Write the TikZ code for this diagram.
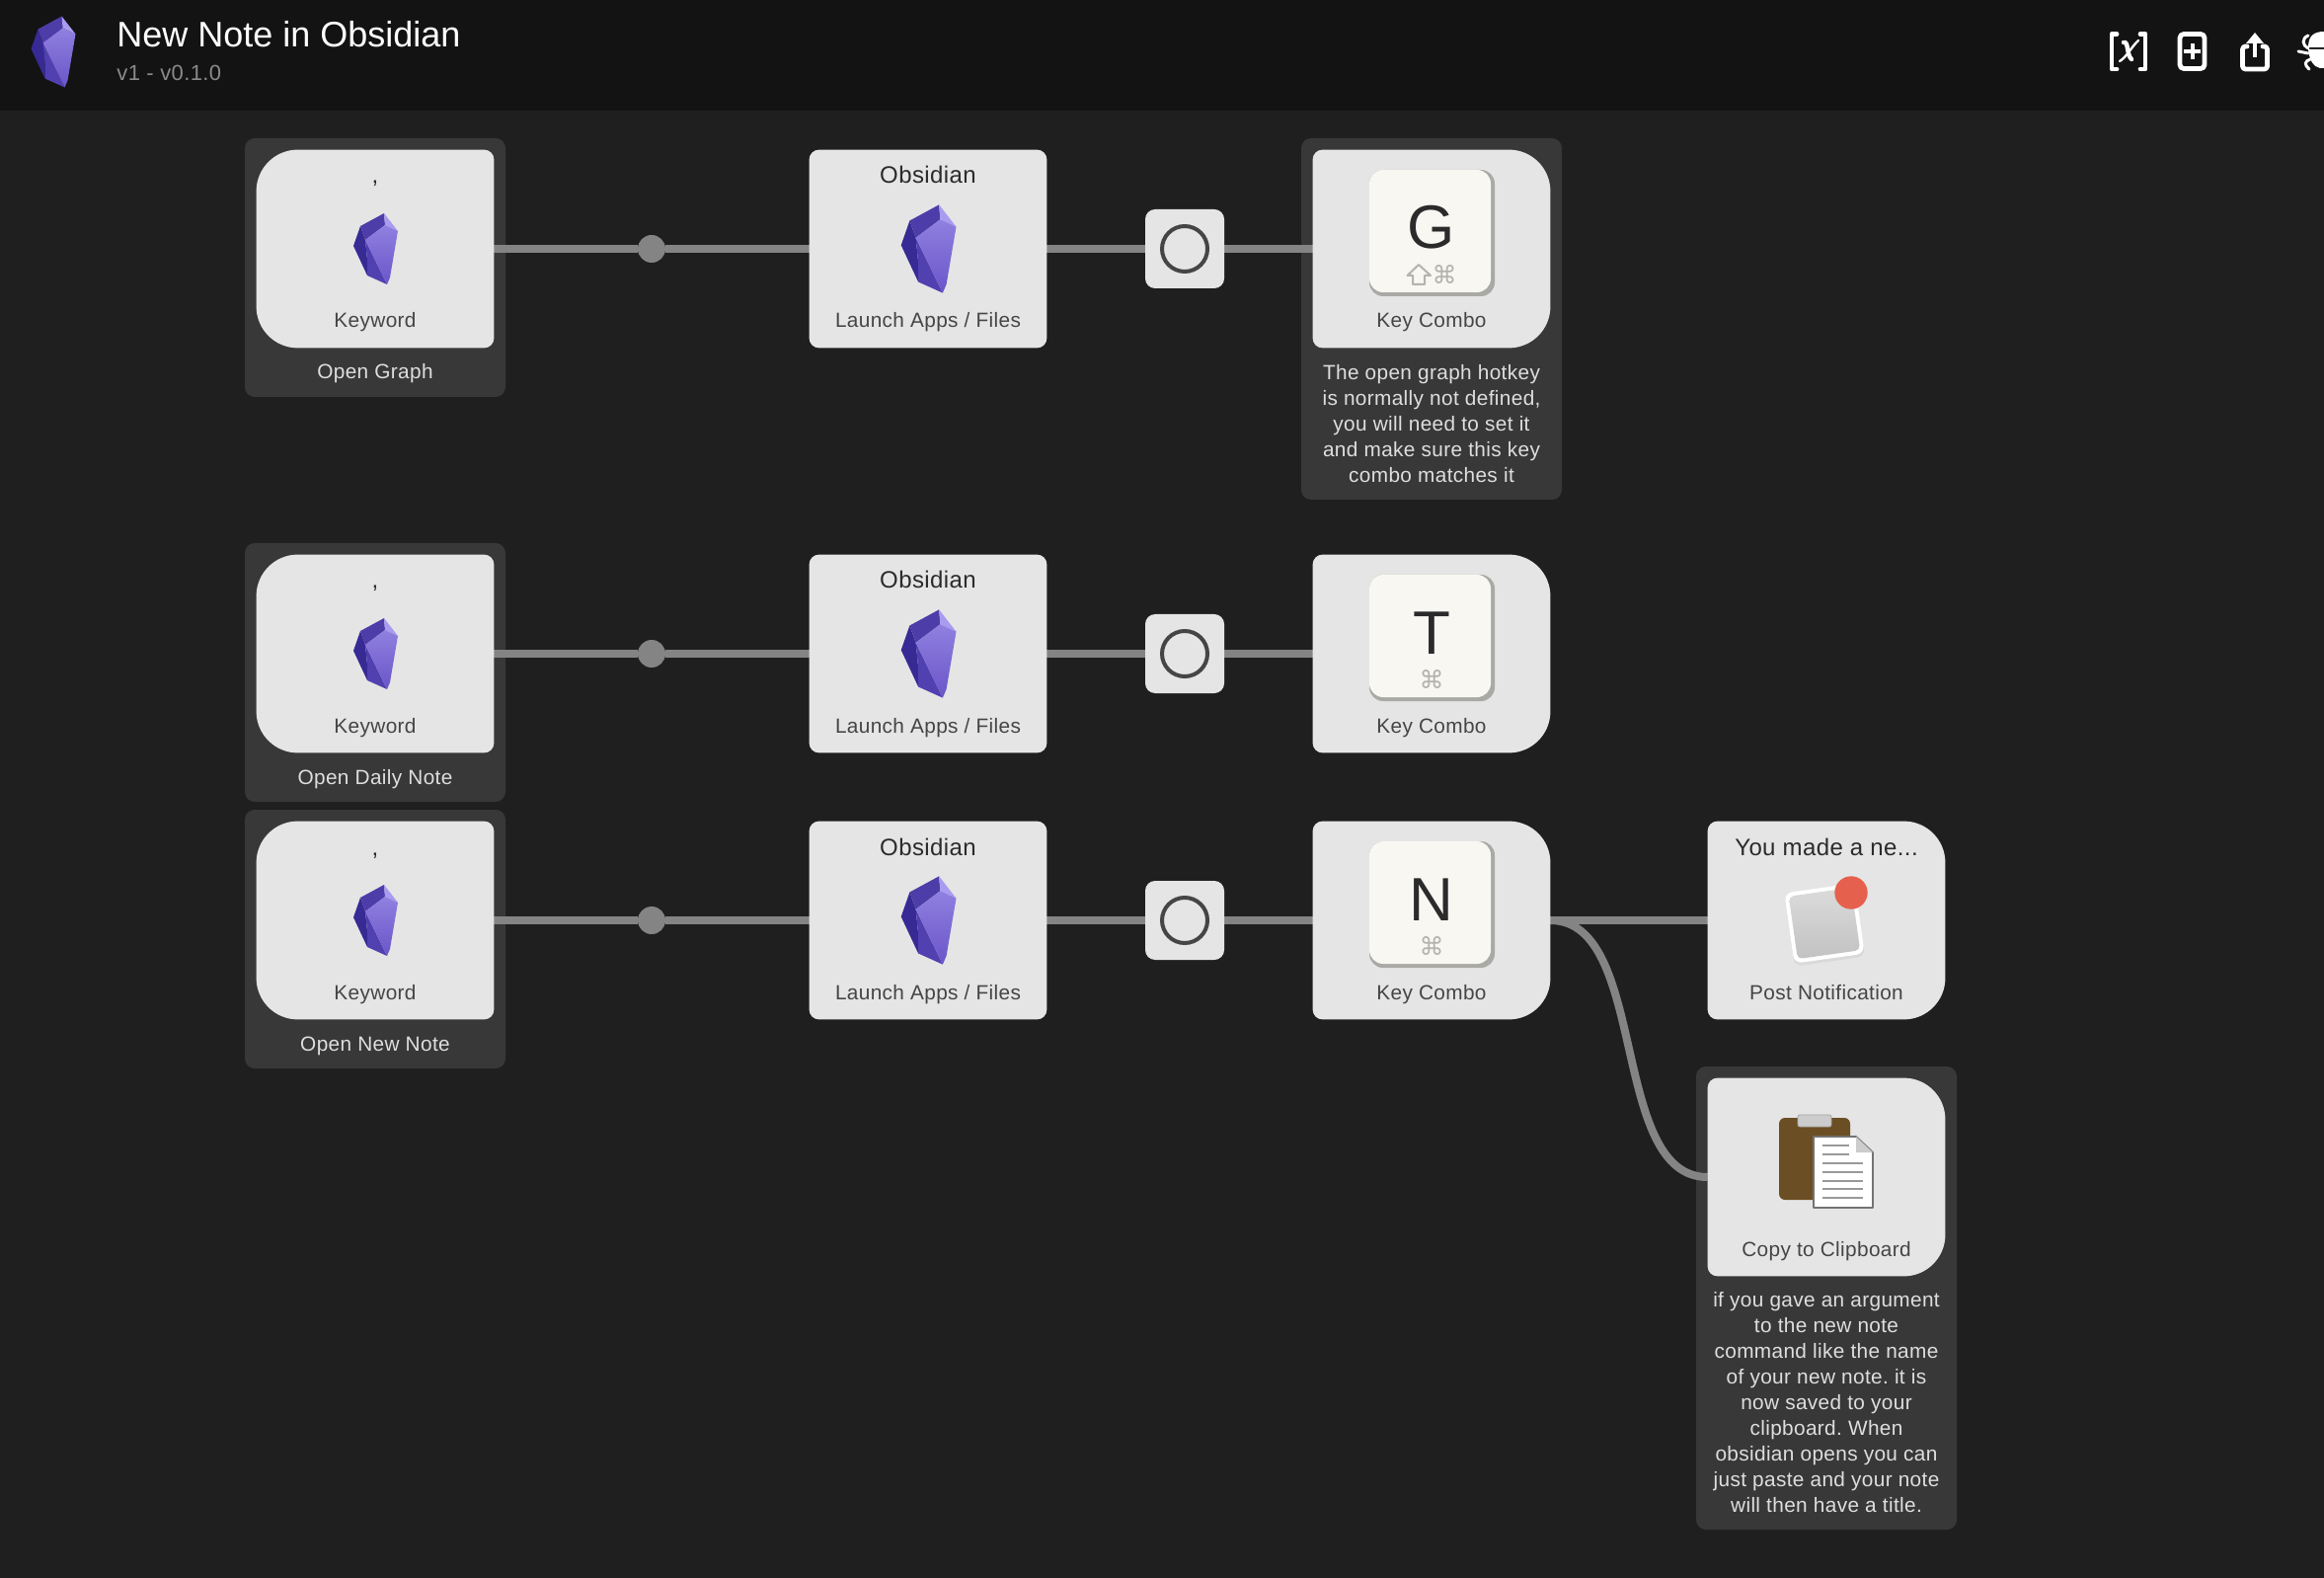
\documentclass[tikz,border=0pt]{standalone}
\usepackage{fontspec}
\setmainfont{Liberation Sans}
\newfontfamily\smallface[LetterSpace=1.7]{Liberation Sans}
\newfontfamily\symfont{DejaVu Sans}
\definecolor{canvasbg}{HTML}{1F1F1F}
\definecolor{headerbg}{HTML}{131313}
\definecolor{commentbg}{HTML}{383838}
\definecolor{cardbg}{HTML}{E5E5E5}
\definecolor{wirecol}{HTML}{848484}
\definecolor{labelcol}{HTML}{454545}
\definecolor{titlecol}{HTML}{2B2B2B}
\definecolor{commenttext}{HTML}{DEDEDE}
\definecolor{subcol}{HTML}{8A8A8A}
\definecolor{keyface}{HTML}{F8F7F2}
\definecolor{keyshade}{HTML}{A9A9A5}
\definecolor{modcol}{HTML}{B3B3B0}
\definecolor{gemdark}{HTML}{372A94}
\definecolor{gemmid}{HTML}{4D3DA8}
\definecolor{gemlow}{HTML}{5140B0}
\definecolor{gemlite}{HTML}{A99BEF}
\definecolor{gemtop}{HTML}{9080E0}
\definecolor{gembot}{HTML}{6A55C8}
\definecolor{badgecol}{HTML}{E5604D}
\definecolor{boardcol}{HTML}{6B4E23}
\pgfdeclarelayer{base}
\pgfdeclarelayer{wires}
\pgfsetlayers{base,wires,main}
\tikzset{
  x=0.5pt,y=-0.5pt,
  commentbox/.style={fill=commentbg,rounded corners=5pt,inner sep=0pt,minimum width=132pt},
  cardbox/.style={inner sep=0pt,minimum width=120pt,minimum height=100pt},
  filterbox/.style={fill=cardbg,rounded corners=5pt,inner sep=0pt,minimum width=40pt,minimum height=40pt},
  wire/.style={draw=wirecol,line width=4pt},
  wiredot/.style={circle,fill=wirecol,inner sep=0pt,minimum size=14pt},
  ring/.style={circle,draw=labelcol,line width=2pt,inner sep=0pt,minimum size=23pt},
  cardtitle/.style={anchor=base,inner sep=0pt,text=titlecol,font=\smallface\frenchspacing\fontsize{12}{14}\selectfont},
  cardlabel/.style={anchor=base,inner sep=0pt,text=labelcol,font=\smallface\frenchspacing\fontsize{10.4}{13}\selectfont},
  commentlabel/.style={anchor=base,inner sep=0pt,text=commenttext,align=center,font=\smallface\frenchspacing\fontsize{10.4}{13}\selectfont},
  keyletter/.style={anchor=base,inner sep=0pt,text=titlecol,font=\fontsize{31}{34}\selectfont},
  keymods/.style={inner sep=0pt,text=modcol,font=\symfont\fontsize{12.5}{14}\selectfont},
  icon/.style={draw=white,line width=2.4pt,line cap=round,line join=round},
  gem/.pic={
    \fill[gemdark] (-22,-3) -- (-15,-23) -- (-10,-9) -- (-8,11) -- (-8,27) -- cycle;
    \fill[gemlow] (-10,-9) -- (12,36) -- (-8,27) -- (-8,11) -- cycle;
    \fill[gemmid] (-15,-23) -- (9,-36) -- (10,-24) -- (-10,-9) -- cycle;
    \fill[gemlite] (9,-36) -- (23,-18) -- (10,-24) -- cycle;
    \shade[top color=gemtop,bottom color=gembot] (-10,-9) -- (10,-24) -- (23,-18) -- (15,29) -- (12,36) -- cycle;
  }
}
% name, centre, left radius, right radius
\newcommand{\card}[4]{%
  \node[cardbox] (#1) at (#2) {};
  \fill[cardbg,rounded corners=#3] (#1.west) |- (#1.north)
     [rounded corners=#4] -| (#1.east) |- (#1.south)
     [rounded corners=#3] -| (#1.west) -- cycle;
}
% name, centre x, centre y, letter, x of the command sign
\newcommand{\keycap}[5]{%
  \begin{scope}[shift={(#2,#3)}]
    \fill[keyshade,rounded corners=7pt] (-63,-80) rectangle (64,48);
    \fill[keyface,rounded corners=7pt] (-63,-80) rectangle (60,44);
    \node[keyletter] (#1-letter) at (0,0) {#4};
    \node[keymods] (#1-mods) at (#5,26) {⌘};
  \end{scope}
}
\begin{document}
\begin{tikzpicture}
\path[use as bounding box] (0,0) rectangle (2354,1598);
\begin{pgfonlayer}{base}
  \fill[canvasbg] (0,0) rectangle (2354,1598);
  \fill[headerbg] (0,0) rectangle (2354,112);
  \node[commentbox,minimum height=131pt] (c1) at (380,271) {};
  \node[commentbox,minimum height=183pt] (c2) at (1450,323) {};
  \node[commentbox,minimum height=131pt] (c3) at (380,681) {};
  \node[commentbox,minimum height=131pt] (c4) at (380,951) {};
  \node[commentbox,minimum height=234.5pt] (c5) at (1850,1314.5) {};
\end{pgfonlayer}

% header
\pic at (53.5,52.5) {gem};
\node[anchor=base west,inner sep=0pt,text=white,font=\fontsize{18}{20}\selectfont] (apptitle) at (118,48) {New Note in Obsidian};
\node[anchor=base west,inner sep=0pt,text=subcol,font=\smallface\fontsize{11}{13}\selectfont] (appver) at (118,82) {v1 - v0.1.0};
% header icons
\draw[icon] (2144,34.5) -- (2139,34.5) -- (2139,70) -- (2144,70);
\draw[icon] (2168,34.5) -- (2173,34.5) -- (2173,70) -- (2168,70);
\draw[white,line width=1.2pt,line cap=round] (2147,62) .. controls (2154,58) and (2160,46) .. (2166,41);
\draw[white,line width=2.2pt,line cap=round] (2151,43) .. controls (2156,41) and (2154,56) .. (2159,60);
\draw[icon,rounded corners=2pt] (2208,34.5) rectangle (2233,69.5);
\draw[white,line width=2pt] (2212,52) -- (2229,52) (2220.5,44) -- (2220.5,60);
\draw[icon,rounded corners=1.5pt] (2276,47) -- (2271.5,47) -- (2271.5,70) -- (2296.5,70) -- (2296.5,47) -- (2292,47);
\draw[white,line width=2pt] (2284,40) -- (2284,58);
\fill[white] (2284,33) -- (2293,44) -- (2275,44) -- cycle;
\begin{scope}
  \clip (2300,0) rectangle (2354,112);
  \fill[white] (2338,48) .. controls (2338,36) and (2344,32) .. (2354,32) -- (2360,32) -- (2360,48) -- cycle;
  \fill[white] (2338,50) -- (2360,50) -- (2360,69) -- (2350,69) .. controls (2343,68) and (2339,60) .. (2338,50) -- cycle;
  \draw[white,line width=1.5pt,line cap=round] (2338,36) .. controls (2331,39) and (2332,46) .. (2338,49);
  \draw[white,line width=1.5pt,line cap=round] (2328,52) -- (2338,54);
  \draw[white,line width=1.5pt,line cap=round] (2340,60) .. controls (2334,62) and (2334,66) .. (2339,70);
\end{scope}

% row 1
\card{kw1}{380,252}{21pt}{5pt}
\node[cardtitle] (kw1-title) at (380,186) {,};
\pic at (380,252) {gem};
\node[cardlabel] (kw1-label) at (380,332) {Keyword};
\node[commentlabel] (c1-text) at (380,384) {Open Graph};
\card{ob1}{940,252}{5pt}{5pt}
\node[cardtitle] (ob1-title) at (940,186) {Obsidian};
\pic[scale=1.24] at (940,252) {gem};
\node[cardlabel] (ob1-label) at (940,332) {Launch Apps / Files};
\node[filterbox] (f1) at (1200,252) {};
\node[ring] (r1) at (1200,252) {};
\card{key1}{1450,252}{5pt}{21pt}
\keycap{key1}{1450}{252}{G}{13}
\draw[modcol,line width=1pt,line join=round] (1437,268) -- (1449,279) -- (1443,279) -- (1443,288) -- (1431,288) -- (1431,279) -- (1425.5,279) -- cycle;
\node[cardlabel] (key1-label) at (1450,332) {Key Combo};
\node[commentlabel] (c2-text) at (1450,488.5) {The open graph hotkey\\is normally not defined,\\you will need to set it\\and make sure this key\\combo matches it};
\node[wiredot] (d1) at (660,252) {};

% row 2
\card{kw2}{380,662}{21pt}{5pt}
\node[cardtitle] (kw2-title) at (380,596) {,};
\pic at (380,662) {gem};
\node[cardlabel] (kw2-label) at (380,742) {Keyword};
\node[commentlabel] (c3-text) at (380,794) {Open Daily Note};
\card{ob2}{940,662}{5pt}{5pt}
\node[cardtitle] (ob2-title) at (940,596) {Obsidian};
\pic[scale=1.24] at (940,662) {gem};
\node[cardlabel] (ob2-label) at (940,742) {Launch Apps / Files};
\node[filterbox] (f2) at (1200,662) {};
\node[ring] (r2) at (1200,662) {};
\card{key2}{1450,662}{5pt}{21pt}
\keycap{key2}{1450}{662}{T}{0}
\node[cardlabel] (key2-label) at (1450,742) {Key Combo};
\node[wiredot] (d2) at (660,662) {};

% row 3
\card{kw3}{380,932}{21pt}{5pt}
\node[cardtitle] (kw3-title) at (380,866) {,};
\pic at (380,932) {gem};
\node[cardlabel] (kw3-label) at (380,1012) {Keyword};
\node[commentlabel] (c4-text) at (380,1064) {Open New Note};
\card{ob3}{940,932}{5pt}{5pt}
\node[cardtitle] (ob3-title) at (940,866) {Obsidian};
\pic[scale=1.24] at (940,932) {gem};
\node[cardlabel] (ob3-label) at (940,1012) {Launch Apps / Files};
\node[filterbox] (f3) at (1200,932) {};
\node[ring] (r3) at (1200,932) {};
\card{key3}{1450,932}{5pt}{21pt}
\keycap{key3}{1450}{932}{N}{0}
\node[cardlabel] (key3-label) at (1450,1012) {Key Combo};
\node[wiredot] (d3) at (660,932) {};

% notification
\card{note}{1850,932}{5pt}{21pt}
\node[cardtitle] (note-title) at (1850,866) {You made a ne...};
\begin{scope}[shift={(1848,935)},rotate=8]
  \fill[black!15,rounded corners=4pt] (-36,-33) rectangle (36,39);
  \fill[white,rounded corners=4pt] (-36,-36) rectangle (36,36);
  \shade[top color=black!14,bottom color=black!24,rounded corners=2.5pt] (-32,-32) rectangle (32,32);
\end{scope}
\fill[badgecol] (1875,904) circle[radius=16.7];
\node[cardlabel] (note-label) at (1850,1012) {Post Notification};

% clipboard
\card{clip}{1850,1192}{5pt}{21pt}
\fill[boardcol,rounded corners=3pt] (1802,1132) rectangle (1874,1215);
\fill[black!20,draw=black!35,line width=0.4pt,rounded corners=1pt] (1821,1129) rectangle (1855,1141);
\filldraw[fill=white,draw=black!55,line width=0.9pt,line join=round] (1837,1151) -- (1880,1151) -- (1897,1167) -- (1897,1223) -- (1837,1223) -- cycle;
\fill[black!20] (1880,1151) -- (1897,1167) -- (1880,1167) -- cycle;
\draw[black!40,line width=0.6pt] (1846,1160) -- (1873,1160) (1846,1169) -- (1873,1169)
  (1846,1178) -- (1887,1178) (1846,1187) -- (1887,1187) (1846,1196) -- (1887,1196)
  (1846,1204) -- (1887,1204) (1846,1213) -- (1887,1213);
\node[cardlabel] (clip-label) at (1850,1272) {Copy to Clipboard};
\node[commentlabel] (c5-text) at (1850,1531.5) {if you gave an argument\\to the new note\\command like the name\\of your new note. it is\\now saved to your\\clipboard. When\\obsidian opens you can\\just paste and your note\\will then have a title.};

% connectors
\begin{pgfonlayer}{wires}
  \draw[wire] (kw1.east) -- (d1) -- (ob1.west);
  \draw[wire] (ob1.east) -- (f1.west);
  \draw[wire] (f1.east) -- (key1.west);
  \draw[wire] (kw2.east) -- (d2) -- (ob2.west);
  \draw[wire] (ob2.east) -- (f2.west);
  \draw[wire] (f2.east) -- (key2.west);
  \draw[wire] (kw3.east) -- (d3) -- (ob3.west);
  \draw[wire] (ob3.east) -- (f3.west);
  \draw[wire] (f3.east) -- (key3.west);
  \draw[wire] (key3.east) -- (note.west);
  \draw[wire] (key3.east) .. controls +(100,0) and +(-100,0) .. (clip.west);
\end{pgfonlayer}
\end{tikzpicture}
\end{document}
